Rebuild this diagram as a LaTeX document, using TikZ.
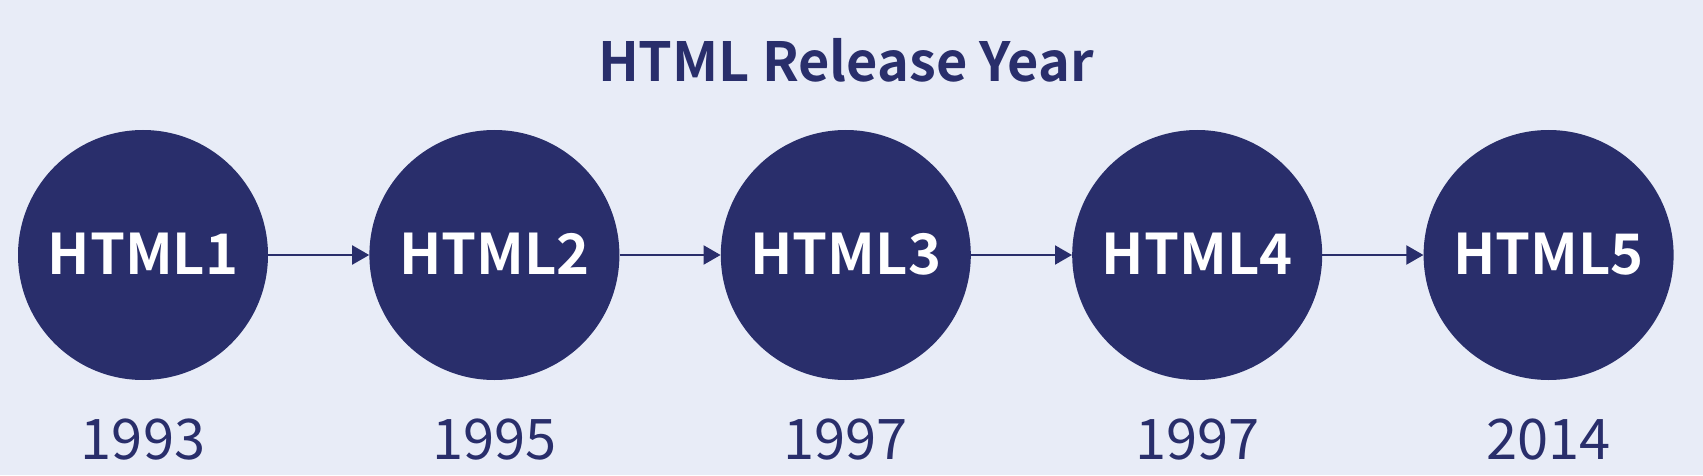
\documentclass[tikz,border=0pt]{standalone}
\usepackage{fontspec}
\setmainfont{Noto Sans CJK SC}[BoldFont={Noto Sans CJK SC Bold}]
\usepackage{xcolor}
\usetikzlibrary{arrows.meta, positioning}

\definecolor{navy}{RGB}{41,46,107}
\definecolor{paper}{RGB}{232,236,247}

\begin{document}
\begin{tikzpicture}[
    x = 1pt, y = 1pt,
    node distance = 38pt and 101pt,
    ver/.style  = {
      circle, fill = navy, text = white, inner sep = 0pt,
      minimum size = 250pt,
      font = \fontsize{56}{56}\selectfont\bfseries
    },
    year/.style = {inner sep = 0pt, text = navy,
      font = \fontsize{56}{56}\selectfont},
    arr/.style  = {-{Triangle[length=17pt, width=19pt]}, line width = 2pt, navy}
  ]
    % ── Background ───────────────────────────────────────────────────────────
    \fill[paper] (0,0) rectangle (1703,475);
    \useasboundingbox (0,0) rectangle (1703,475);

    % ── Title ────────────────────────────────────────────────────────────────
    \node[text = navy, font = \fontsize{54}{54}\selectfont\bfseries]
      (title) at (846,415) {HTML Release Year};

    % ── Versions ─────────────────────────────────────────────────────────────
    \node[ver]                 (h1) at (143,220) {\raisebox{2pt}{HTML1}};
    \node[ver, right = of h1]  (h2) {\raisebox{2pt}{HTML2}};
    \node[ver, right = of h2]  (h3) {\raisebox{2pt}{HTML3}};
    \node[ver, right = of h3]  (h4) {\raisebox{2pt}{HTML4}};
    \node[ver, right = of h4]  (h5) {\raisebox{2pt}{HTML5}};

    % ── Years ────────────────────────────────────────────────────────────────
    \node[year, below = of h1] (y1) {1993};
    \node[year, below = of h2] (y2) {1995};
    \node[year, below = of h3] (y3) {1997};
    \node[year, below = of h4] (y4) {1997};
    \node[year, below = of h5] (y5) {2014};

    % ── Arrows ───────────────────────────────────────────────────────────────
    \draw[arr] (h1.east) -- (h2.west);
    \draw[arr] (h2.east) -- (h3.west);
    \draw[arr] (h3.east) -- (h4.west);
    \draw[arr] (h4.east) -- (h5.west);
  \end{tikzpicture}
\end{document}
